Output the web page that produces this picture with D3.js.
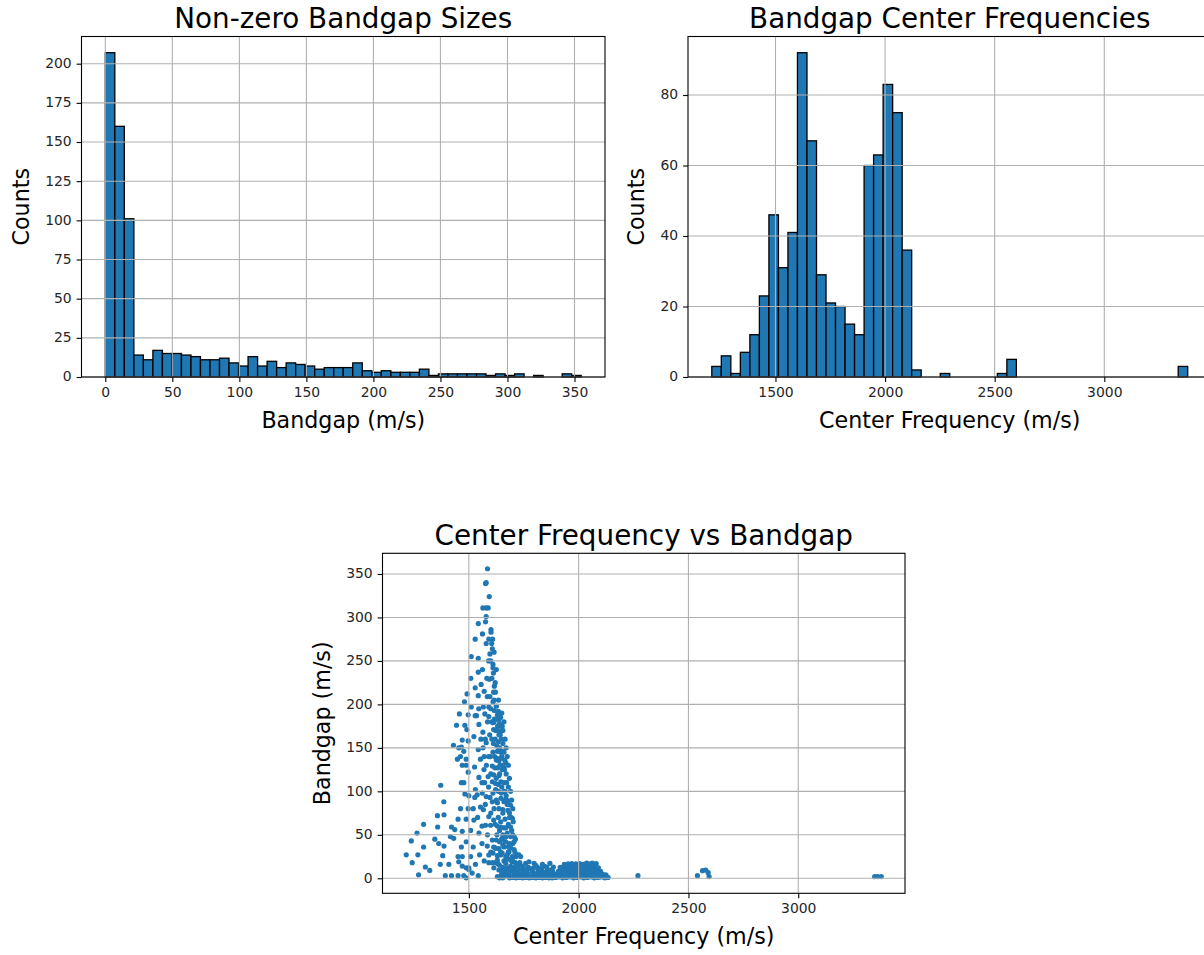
<!DOCTYPE html>
<html>
<head>
<meta charset="utf-8">
<script src="https://cdn.jsdelivr.net/npm/d3@7"></script>
<style>
  body { margin: 0; background: #fff; }
  svg { display: block; font-family: "DejaVu Sans", sans-serif; }
</style>
</head>
<body>
<div id="figure"></div>
<script>
'use strict';

// bandgap size histogram, 50 bins of ~7.1 m/s starting at 0
const sizeBinStart = 0;
const sizeBinWidth = 7.1;
const sizeCounts = [207, 160, 101, 14, 11, 17, 15, 15, 14, 13,
                    11, 11, 12, 9, 7, 13, 7, 10, 6, 9,
                    8, 7, 5, 6, 6, 6, 9, 4, 3, 4,
                    3, 3, 3, 5, 1, 2, 2, 2, 2, 2,
                    1, 2, 1, 2, 0, 1, 0, 0, 2, 1];
const sizeTicksX = [0, 50, 100, 150, 200, 250, 300, 350];
const sizeTicksY = [0, 25, 50, 75, 100, 125, 150, 175, 200];

// center frequency histogram, 50 bins
const centerBinStart = 1209.5;
const centerBinWidth = 43.42;
const centerCounts = [3, 6, 1, 7, 12, 23, 46, 31, 41, 92,
                      67, 29, 21, 20, 15, 12, 60, 63, 83, 75,
                      36, 2, 0, 0, 1, 0, 0, 0, 0, 0,
                      1, 5, 0, 0, 0, 0, 0, 0, 0, 0,
                      0, 0, 0, 0, 0, 0, 0, 0, 0, 3];
const centerTicksX = [1500, 2000, 2500, 3000];
const centerTicksY = [0, 20, 40, 60, 80];

// scatter: [center frequency, bandgap]
const peakPoints = [
  [1585,356],[1576,339],[1579,340],[1593,324],[1564,311],[1579,311],[1588,311],[1579,301],[1576,295],[1543,293],
  [1601,286],[1601,283],[1562,281],[1529,275],[1591,275],[1579,270],[1607,264],[1596,258],[1511,255],[1543,253],
  [1610,246],[1610,242],[1612,236],[1562,240],[1543,237],[1509,230],[1582,230],[1593,229],[1556,223],[1616,221],
  [1529,219],[1613,214],[1621,214],[1492,212],[1543,210],[1584,209],[1596,209],[1480,203],[1610,203],[1511,197],
  [1566,197],[1591,197],[1616,193],[1634,192],[1457,189],[1497,188],[1573,189],[1529,187],[1535,187],[1591,186],
  [1616,183],[1625,183],[1637,183],[1604,180],[1610,179],[1546,177],[1444,176],[1482,176],[1631,175],[1643,175],
  [1652,175],[1491,171],[1613,171],[1622,170],[1646,169],[1564,168],[1637,165],[1643,165],[1523,163],[1470,159],
  [1497,158],[1579,156],[1634,157],[1430,153],[1454,150],[1543,148],[1466,151],[1477,146],[1610,145],[1630,146],
  [1646,145],[1652,146],[1448,137],[1462,140],[1553,137],[1488,137],[1625,136],[1637,135],[1663,136],[1668,133],
  [1470,130],[1488,130],[1526,128],[1569,125],[1607,129],[1619,127],[1631,127],[1652,125],[1660,127],[1497,122],
  [1613,119],[1637,118],[1588,117],[1546,116],[1466,110],[1477,110],[1646,111],[1660,110],[1672,110],[1607,111],
  [1622,109],[1372,107],[1530,102],[1482,97],[1538,96],[1561,98],[1622,102],[1634,100],[1660,100],[1527,93],
  [1579,94],[1596,93],[1646,92],[1668,91],[1680,89],[1690,84],[1386,88],[1607,88],[1630,87],[1497,80],
  [1462,80],[1553,82],[1566,79],[1637,80],[1655,79],[1357,72],[1387,73],[1451,68],[1488,68],[1523,67],
  [1591,71],[1613,67],[1634,70],[1686,70],[1698,69],[1294,62],[1576,61],[1599,61],[1358,59],[1421,59],
  [1436,56],[1646,59],[1668,58],[1690,59],[1264,52],[1470,54],[1508,55],[1546,52],[1706,48],[1345,45],
  [1416,48],[1431,46],[1488,42],[1607,44],[1625,44],[1652,46],[1668,42],[1690,48],[1238,43],[1363,40],
  [1294,36],[1387,37],[1466,36],[1520,36],[1584,37],[1613,36],[1637,34],[1660,36],[1690,35],[1706,33],
  [1215,27],[1268,27],[1381,26],[1451,25],[1470,25],[1508,25],[1549,27],[1610,29],[1630,26],[1652,29],
  [1675,27],[1698,25],[1728,27],[1242,18],[1302,13],[1322,9],[1370,16],[1409,16],[1454,19],[1470,14],
  [1488,12],[1500,12],[1530,16],[1591,18],[1622,18],[1271,4],[1393,3],[1421,3],[1451,3],[1477,3],
  [1488,0.5],[1543,3],[1500,10],[1515,6]
];
const ridgePoints = [
  [1604,270],[1600,250],[1605,230],[1620,225],[1615,205],[1625,198],[1630,188],[1640,178],[1620,160],[1628,152],
  [1640,150],[1655,155],[1618,140],[1645,138],[1655,130],[1640,120],[1625,115],[1650,105],[1665,100],[1670,95],
  [1675,85],[1655,75],[1665,68],[1680,62],[1640,55],[1655,50],[1675,52],[1685,40],[1700,40],[1645,30],
  [1680,30],[1695,20],[1712,18],[1660,20],[1640,15],[1675,12],[1600,120],[1598,140],[1605,160],[1590,105],
  [1575,85],[1600,75],[1620,62],[1560,60],[1585,50],[1600,30],[1620,35],[1570,20],[1560,40],[1540,70],
  [1520,80],[1500,95],[1560,110],[1570,140],[1555,160],[1595,165],[1545,195],[1570,215],[1590,250],[1615,180],
  [1630,170],[1648,160],[1660,145],[1670,120],[1680,105],[1685,75],[1695,55],[1710,30],
  [1650,190],[1645,185],[1635,205],[1625,240],[1615,260],[1608,275],[1660,180],[1655,170],[1665,160],[1670,150],
  [1675,140],[1680,130],[1662,125],[1685,115],[1690,100],[1695,90],[1700,80],[1702,65],[1692,70],[1678,78],
  [1660,88],[1648,98],[1635,108],[1642,130],[1628,138],[1650,140],[1612,155],[1600,195],[1585,180],[1575,160],
  [1565,150],[1580,130],[1590,140],[1572,110],[1610,98],[1625,90],[1615,80],[1630,60],[1645,65],[1660,58],
  [1650,45],[1670,48],[1700,50],[1712,45],[1715,25],[1705,12],[1690,8],[1680,22],[1665,42],[1640,42],[1628,50]
];
const bandPoints = [
  [1630,1.9],[1649,4.6],[1660,1.9],[1675,3.5],[1690,1.9],[1706,5],[1721,1.9],[1736,3],[1751,1.9],[1767,5.7],
  [1782,1.9],[1797,3.8],[1812,1.9],[1828,5],[1843,1.9],[1858,3.4],[1873,1.9],[1881,7.6],
  [1637,9.5],[1655,12.6],[1671,10],[1690,14.1],[1713,11],[1729,15],[1744,9.5],[1759,17.2],[1771,12.6],[1787,9.5],
  [1797,17.2],[1812,12.6],[1828,9.5],[1843,14.1],[1858,10],[1869,17.2],[1698,19],[1668,17.2],[1634,16.5],[1774,19],
  [1614,12],[1630,21],[1645,26.8],[1668,24.9],[1683,30.6],[1698,22],[1721,26.8],[1736,25],[1607,18],[1591,26.8],
  [1622,34.5],[1655,38.3],[1680,36.4],[1706,42],
  [1640,0.5],[1655,0.5],[1685,0.5],[1700,1],[1715,0.5],[1730,1],[1745,0.5],[1760,1],[1775,0.5],[1790,1],
  [1805,0.5],[1820,1],[1835,0.5],[1850,1],[1865,0.5],[1880,0.5],[1890,2],[1665,6],[1720,7],[1755,6],
  [1790,7],[1820,6],[1850,7],[1875,5],
  [1705,8],[1712,3],[1725,10],[1740,5],[1748,13],[1762,9],[1770,3],[1780,11],[1795,12],[1803,5],
  [1815,9],[1825,3],[1832,12],[1840,7],[1848,4],[1855,13],[1862,8],[1870,3],[1878,10],[1885,4],
  [1740,14],[1716,15],[1695,11],[1680,5],[1650,8],[1732,18],[1805,15],[1835,16],[1885,13]
];
const blobPoints = [
  [1896,1],[1911,1.5],[1927,0.5],[1944,1],[1959,1.5],[1976,0.5],[1991,1],[2008,1.5],[2023,0.5],[2040,1],
  [2056,1.5],[2071,0.5],[2088,1],[2103,1.5],[2119,0.5],[2134,1],
  [1901,5],[1917,4.5],[1934,5.5],[1949,5],[1966,4.5],[1982,5.5],[1997,5],[2014,4.5],[2030,5.5],[2045,5],
  [2062,4.5],[2078,5.5],[2093,5],[2110,4.5],[2124,4],
  [1908,8],[1925,9.5],[1941,9],[1958,8.5],[1973,9.5],[1990,9],[2006,8.5],[2021,9.5],[2038,9],[2054,8.5],
  [2069,9.5],[2086,9],[2100,8],
  [1916,12.5],[1931,13],[1948,13.5],[1963,12.5],[1980,13],[1996,13.5],[2011,12.5],[2028,13],[2044,13.5],[2059,12.5],
  [2076,13],[2090,12],
  [1935,16],[1952,16.5],[1969,17],[1987,16.5],[2004,17],[2020,16],[2036,17.5],[2048,16.5],[2062,17.5],[2080,17],
  [2072,15]
];
const outlierPoints = [
  [2270,3],[2541,3],[2564,8.8],[2579,9.5],[2590,6.5],[2594,2],[3348,2],[3362,2],[3378,2]
];
const scatterTicksX = [1500, 2000, 2500, 3000];
const scatterTicksY = [0, 50, 100, 150, 200, 250, 300, 350];

const blue = '#1f77b4';
const tickFont = 13.9;
const labelFont = 22.2;
const titleFont = 27.8;

const svg = d3.select('#figure')
              .append('svg')
                .attr('width', 1204)
                .attr('height', 955);

// matplotlib style 5% margin around the data range
function padded(lo, hi) {
  const m = (hi - lo) * 0.05;
  return [lo - m, hi + m];
}

function makePanel(box, xDomain, yDomain, xTicks, yTicks) {
  const x = d3.scaleLinear().domain(xDomain).range([box.left, box.left + box.width]);
  const y = d3.scaleLinear().domain(yDomain).range([box.top + box.height, box.top]);
  const g = svg.append('g');
  const marks = g.append('g');
  return {box, x, y, g, marks, xTicks, yTicks};
}

function finishPanel(p, title, xLabel, yLabel) {
  const {box, x, y, g} = p;
  const grid = g.append('g')
                .attr('stroke', '#b0b0b0')
                .attr('stroke-width', 1.1);
  grid.selectAll('.vx').data(p.xTicks).enter().append('line')
      .attr('x1', d => x(d)).attr('x2', d => x(d))
      .attr('y1', box.top).attr('y2', box.top + box.height);
  grid.selectAll('.hy').data(p.yTicks).enter().append('line')
      .attr('x1', box.left).attr('x2', box.left + box.width)
      .attr('y1', d => y(d)).attr('y2', d => y(d));

  g.append('rect')
     .attr('x', box.left).attr('y', box.top)
     .attr('width', box.width).attr('height', box.height)
     .attr('fill', 'none').attr('stroke', '#000').attr('stroke-width', 1.1);

  const fmt = d3.format('d');
  const xAxis = g.append('g')
                 .attr('transform', `translate(0, ${box.top + box.height})`)
                 .call(d3.axisBottom(x).tickValues(p.xTicks).tickFormat(fmt).tickSize(4.9).tickPadding(4.9));
  const yAxis = g.append('g')
                 .attr('transform', `translate(${box.left}, 0)`)
                 .call(d3.axisLeft(y).tickValues(p.yTicks).tickFormat(fmt).tickSize(4.9).tickPadding(4.9));
  [xAxis, yAxis].forEach(a => {
    a.select('.domain').remove();
    a.selectAll('line').attr('stroke', '#000').attr('stroke-width', 1.1);
    a.selectAll('text').attr('fill', '#262626')
     .style('font-family', '"DejaVu Sans", sans-serif').style('font-size', tickFont + 'px');
  });
  yAxis.selectAll('text').attr('dy', '0.28em');

  let widest = 0;
  yAxis.selectAll('text').each(function () { widest = Math.max(widest, this.getComputedTextLength()); });

  g.append('text')
     .attr('x', box.left + box.width / 2).attr('y', box.top - 8.3)
     .attr('text-anchor', 'middle')
     .style('font-size', titleFont + 'px')
     .text(title);
  g.append('text')
     .attr('x', box.left + box.width / 2).attr('y', box.top + box.height + 51)
     .attr('text-anchor', 'middle')
     .style('font-size', labelFont + 'px')
     .text(xLabel);
  const lx = box.left - 9.8 - widest - 5.6 - 10.5;
  g.append('text')
     .attr('transform', `translate(${lx}, ${box.top + box.height / 2}) rotate(-90)`)
     .attr('text-anchor', 'middle')
     .style('font-size', labelFont + 'px')
     .text(yLabel);
}

function drawHist(box, binStart, binWidth, counts, xTicks, yTicks, title, xLabel) {
  const bins = counts.map((c, i) => ({x0: binStart + i * binWidth, x1: binStart + (i + 1) * binWidth, count: c}));
  const p = makePanel(box,
                      padded(binStart, binStart + counts.length * binWidth),
                      [0, d3.max(counts) * 1.05],
                      xTicks, yTicks);
  p.marks.selectAll('rect')
         .data(bins.filter(d => d.count > 0))
         .enter()
         .append('rect')
           .attr('x', d => p.x(d.x0))
           .attr('width', d => p.x(d.x1) - p.x(d.x0))
           .attr('y', d => p.y(d.count))
           .attr('height', d => p.y(0) - p.y(d.count))
           .attr('fill', blue)
           .attr('stroke', '#000')
           .attr('stroke-width', 1.3);
  finishPanel(p, title, xLabel, 'Counts');
}

drawHist({left: 81.5, top: 36.5, width: 523.5, height: 340.5},
         sizeBinStart, sizeBinWidth, sizeCounts, sizeTicksX, sizeTicksY,
         'Non-zero Bandgap Sizes', 'Bandgap (m/s)');
drawHist({left: 688, top: 36.5, width: 523.5, height: 340.5},
         centerBinStart, centerBinWidth, centerCounts, centerTicksX, centerTicksY,
         'Bandgap Center Frequencies', 'Center Frequency (m/s)');

// scatter of center frequency vs bandgap
const allPoints = [].concat(peakPoints, ridgePoints, bandPoints, blobPoints, outlierPoints);
const sp = makePanel({left: 382.5, top: 553.3, width: 522.5, height: 340},
                     padded(d3.min(allPoints, d => d[0]), d3.max(allPoints, d => d[0])),
                     padded(d3.min(allPoints, d => d[1]), d3.max(allPoints, d => d[1])),
                     scatterTicksX, scatterTicksY);
sp.marks.selectAll('circle')
        .data(allPoints)
        .enter()
        .append('circle')
          .attr('cx', d => sp.x(d[0]))
          .attr('cy', d => sp.y(d[1]))
          .attr('r', 2.6)
          .attr('fill', blue);
finishPanel(sp, 'Center Frequency vs Bandgap', 'Center Frequency (m/s)', 'Bandgap (m/s)');
</script>
</body>
</html>
